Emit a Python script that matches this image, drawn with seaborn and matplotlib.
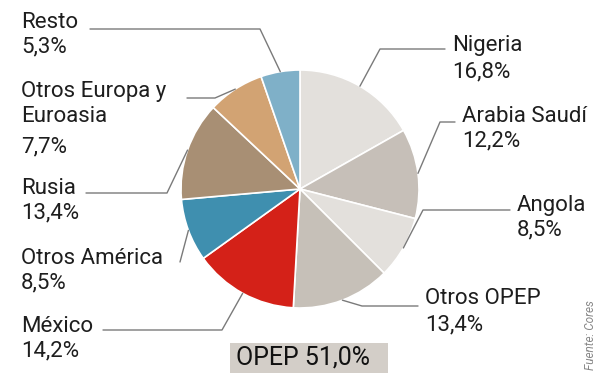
import matplotlib
matplotlib.use("Agg")
import matplotlib.pyplot as plt
from matplotlib.patches import Rectangle
import numpy as np
import seaborn as sns

# data (clockwise from 12 o'clock)
labels = ["Nigeria", "Arabia Saudí", "Angola", "Otros OPEP", "México",
          "Otros América", "Rusia", "Otros Europa y\nEuroasia", "Resto"]
shares = [16.8, 12.2, 8.5, 13.4, 14.2, 8.5, 13.4, 7.7, 5.3]
pct_labels = ["16,8%", "12,2%", "8,5%", "13,4%", "14,2%", "8,5%", "13,4%", "7,7%", "5,3%"]
colors = ["#e3e0dc", "#c6bfb8", "#e3e0dc", "#c6c0b8", "#d42118",
          "#3f8faf", "#a88f74", "#d2a373", "#7fb0c8"]
opep_total = "OPEP 51,0%"
source = "Fuente: Cores"

sns.set_theme(style="white")
plt.rcParams["font.family"] = ["Roboto", "DejaVu Sans"]

W, H = 600, 380
fig = plt.figure(figsize=(6, 3.8), dpi=100)
ax = fig.add_axes([0, 0, 1, 1])
ax.set_xlim(0, W)
ax.set_ylim(0, H)
ax.set_aspect("equal")
ax.axis("off")

cx, cy, r = 300, 189, 119
ax.pie(shares, colors=colors, startangle=90, counterclock=False,
       center=(cx, H - cy), radius=r,
       wedgeprops=dict(edgecolor="white", linewidth=1.2))
ax.set_xlim(0, W)
ax.set_ylim(0, H)

# leader line layout: (elbow x, elbow y, end x) in pixels; end x None = no horizontal
elbows = [(380, 49, 445), (440, 122, 455), (423, 210, 510), (362, 306, 418),
          (222, 330, 103), (180, 262, None), (167, 193, 86), (215, 98, 187),
          (260, 29, 90)]
# text layout: (x, name y, pct y)
text_pos = [(452, 45, 72), (462, 116, 141), (517, 205, 230), (425, 299, 325),
            (21, 326, 351), (21, 259, 283), (21, 189, 213), (21, 92, 147),
            (21, 22, 47)]

fs = 16
txt = dict(fontsize=fs, color="#1e1e1e", va="center", ha="left")

cum = np.cumsum([0] + shares[:-1])
for i, s in enumerate(shares):
    mid = np.deg2rad(90 - (cum[i] + s / 2) / 100 * 360)
    ax0, ay0 = cx + r * np.cos(mid), cy - r * np.sin(mid)
    ex, ey, hx = elbows[i]
    xs, ys = [ax0, ex], [ay0, ey]
    if hx is not None:
        xs.append(hx)
        ys.append(ey)
    ax.plot(xs, [H - y for y in ys], color="#7a7a7a", lw=1)

    tx, ny, py = text_pos[i]
    for k, line in enumerate(labels[i].split("\n")):
        ax.text(tx, H - ny - 24 * k, line, **txt)
    ax.text(tx, H - py, pct_labels[i], **txt)

# OPEP total box
ax.add_patch(Rectangle((230, H - 373), 158, 30, facecolor="#d3cec8", edgecolor="none"))
ax.text(303, H - 358, opep_total, fontsize=18, color="#111111", ha="center", va="center")

ax.text(591, H - 335, source, fontsize=8.5, color="#888888", style="italic",
        rotation=90, ha="center", va="center")

fig.savefig("out.png", dpi=100, facecolor="white")
